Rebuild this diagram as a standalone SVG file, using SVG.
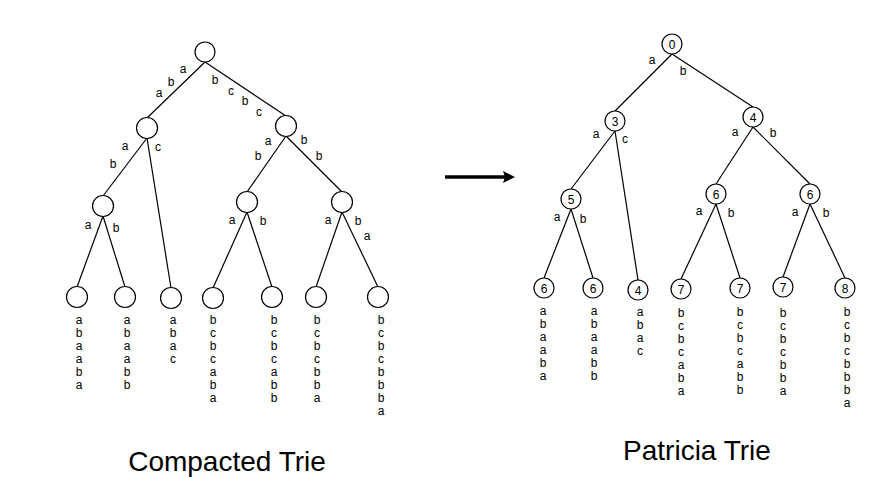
<svg xmlns="http://www.w3.org/2000/svg" width="891" height="477" viewBox="0 0 891 477">
<style>
  .n { fill: #fff; stroke: #000; stroke-width: 1.2; }
  .e { stroke: #000; stroke-width: 1.2; fill: none; }
  .t { font-family: "Liberation Sans", Arial, sans-serif; font-size: 12px; fill: #000; text-anchor: middle; }
  .cap { font-family: "Liberation Sans", Arial, sans-serif; font-size: 28px; fill: #000; text-anchor: middle; }
</style>
<rect width="891" height="477" fill="#fff"/>

<g id="connectors">
  <!-- compacted trie -->
  <line class="e" x1="205" y1="62" x2="147" y2="118"/>
  <line class="e" x1="205" y1="62" x2="286" y2="116"/>
  <line class="e" x1="147" y1="138" x2="103" y2="196"/>
  <line class="e" x1="147" y1="138" x2="171" y2="288"/>
  <line class="e" x1="286" y1="136" x2="247" y2="192"/>
  <line class="e" x1="286" y1="136" x2="342" y2="192"/>
  <line class="e" x1="103" y1="216" x2="77" y2="287"/>
  <line class="e" x1="103" y1="216" x2="125" y2="287"/>
  <line class="e" x1="247" y1="212" x2="213" y2="288"/>
  <line class="e" x1="247" y1="212" x2="272" y2="287"/>
  <line class="e" x1="342" y1="212" x2="316" y2="287"/>
  <line class="e" x1="342" y1="212" x2="378" y2="287"/>
  <!-- patricia trie -->
  <line class="e" x1="672" y1="54" x2="615" y2="111"/>
  <line class="e" x1="672" y1="54" x2="753" y2="107"/>
  <line class="e" x1="615" y1="131" x2="571" y2="189"/>
  <line class="e" x1="615" y1="131" x2="638" y2="280"/>
  <line class="e" x1="753" y1="127" x2="716" y2="184"/>
  <line class="e" x1="753" y1="127" x2="810" y2="184"/>
  <line class="e" x1="571" y1="209" x2="544" y2="278"/>
  <line class="e" x1="571" y1="209" x2="593" y2="278"/>
  <line class="e" x1="716" y1="204" x2="681" y2="279"/>
  <line class="e" x1="716" y1="204" x2="740" y2="278"/>
  <line class="e" x1="810" y1="204" x2="783" y2="277"/>
  <line class="e" x1="810" y1="204" x2="845" y2="278"/>
  <!-- transformation arrow -->
  <line x1="445" y1="177" x2="506" y2="177" stroke="#000" stroke-width="3.5"/>
  <polygon points="503,171 515,177 503,183 505,177" fill="#000"/>
</g>

<g id="edge-labels">
  <text class="t" x="183" y="73">a</text>
  <text class="t" x="171" y="86">b</text>
  <text class="t" x="159" y="97">a</text>
  <text class="t" x="215" y="84">b</text>
  <text class="t" x="231" y="95">c</text>
  <text class="t" x="245" y="105">b</text>
  <text class="t" x="259" y="116">c</text>
  <text class="t" x="125" y="150">a</text>
  <text class="t" x="113" y="168">b</text>
  <text class="t" x="158" y="151">c</text>
  <text class="t" x="268" y="145">a</text>
  <text class="t" x="258" y="160">b</text>
  <text class="t" x="304" y="144">b</text>
  <text class="t" x="319" y="160">b</text>
  <text class="t" x="88" y="229">a</text>
  <text class="t" x="116" y="232">b</text>
  <text class="t" x="232" y="224">a</text>
  <text class="t" x="263" y="225">b</text>
  <text class="t" x="328" y="224">a</text>
  <text class="t" x="358" y="225">b</text>
  <text class="t" x="367" y="240">a</text>

  <text class="t" x="652" y="64">a</text>
  <text class="t" x="683" y="75">b</text>
  <text class="t" x="596" y="138">a</text>
  <text class="t" x="625" y="143">c</text>
  <text class="t" x="735" y="136">a</text>
  <text class="t" x="773" y="137">b</text>
  <text class="t" x="557" y="221">a</text>
  <text class="t" x="583" y="223">b</text>
  <text class="t" x="699" y="215">a</text>
  <text class="t" x="731" y="217">b</text>
  <text class="t" x="795" y="216">a</text>
  <text class="t" x="826" y="217">b</text>
</g>

<!-- Compacted trie nodes -->
<g id="ct-root"><circle class="n" cx="205" cy="52" r="10"/></g>
<g id="ct-a"><circle class="n" cx="147" cy="128" r="10.5"/></g>
<g id="ct-b"><circle class="n" cx="286" cy="126" r="10.5"/></g>
<g id="ct-aa"><circle class="n" cx="103" cy="206" r="10.5"/></g>
<g id="ct-ba"><circle class="n" cx="247" cy="202" r="10.5"/></g>
<g id="ct-bb"><circle class="n" cx="342" cy="202" r="10.5"/></g>
<g id="ct-leaf1"><circle class="n" cx="77" cy="297" r="10.5"/>
  <text class="t" x="79" y="324"><tspan x="79">a</tspan><tspan x="79" dy="13">b</tspan><tspan x="79" dy="13">a</tspan><tspan x="79" dy="13">a</tspan><tspan x="79" dy="13">b</tspan><tspan x="79" dy="13">a</tspan></text></g>
<g id="ct-leaf2"><circle class="n" cx="125" cy="297" r="10.5"/>
  <text class="t" x="127" y="324"><tspan x="127">a</tspan><tspan x="127" dy="13">b</tspan><tspan x="127" dy="13">a</tspan><tspan x="127" dy="13">a</tspan><tspan x="127" dy="13">b</tspan><tspan x="127" dy="13">b</tspan></text></g>
<g id="ct-leaf3"><circle class="n" cx="171" cy="298" r="10.5"/>
  <text class="t" x="173" y="324"><tspan x="173">a</tspan><tspan x="173" dy="13">b</tspan><tspan x="173" dy="13">a</tspan><tspan x="173" dy="13">c</tspan></text></g>
<g id="ct-leaf4"><circle class="n" cx="213" cy="298" r="10.5"/>
  <text class="t" x="213" y="324"><tspan x="213">b</tspan><tspan x="213" dy="13">c</tspan><tspan x="213" dy="13">b</tspan><tspan x="213" dy="13">c</tspan><tspan x="213" dy="13">a</tspan><tspan x="213" dy="13">b</tspan><tspan x="213" dy="13">a</tspan></text></g>
<g id="ct-leaf5"><circle class="n" cx="272" cy="297" r="10.5"/>
  <text class="t" x="274" y="324"><tspan x="274">b</tspan><tspan x="274" dy="13">c</tspan><tspan x="274" dy="13">b</tspan><tspan x="274" dy="13">c</tspan><tspan x="274" dy="13">a</tspan><tspan x="274" dy="13">b</tspan><tspan x="274" dy="13">b</tspan></text></g>
<g id="ct-leaf6"><circle class="n" cx="316" cy="297" r="10.5"/>
  <text class="t" x="317" y="324"><tspan x="317">b</tspan><tspan x="317" dy="13">c</tspan><tspan x="317" dy="13">b</tspan><tspan x="317" dy="13">c</tspan><tspan x="317" dy="13">b</tspan><tspan x="317" dy="13">b</tspan><tspan x="317" dy="13">a</tspan></text></g>
<g id="ct-leaf7"><circle class="n" cx="378" cy="297" r="10.5"/>
  <text class="t" x="381" y="324"><tspan x="381">b</tspan><tspan x="381" dy="13">c</tspan><tspan x="381" dy="13">b</tspan><tspan x="381" dy="13">c</tspan><tspan x="381" dy="13">b</tspan><tspan x="381" dy="13">b</tspan><tspan x="381" dy="13">b</tspan><tspan x="381" dy="13">a</tspan></text></g>

<!-- Patricia trie nodes -->
<g id="pt-root"><circle class="n" cx="672" cy="44" r="10"/><text class="t" x="672" y="48.5">0</text></g>
<g id="pt-a"><circle class="n" cx="615" cy="121" r="10"/><text class="t" x="615" y="125.5">3</text></g>
<g id="pt-b"><circle class="n" cx="753" cy="117" r="10"/><text class="t" x="753" y="121.5">4</text></g>
<g id="pt-aa"><circle class="n" cx="571" cy="199" r="10"/><text class="t" x="571" y="203.5">5</text></g>
<g id="pt-ba"><circle class="n" cx="716" cy="194" r="10"/><text class="t" x="716" y="198.5">6</text></g>
<g id="pt-bb"><circle class="n" cx="810" cy="194" r="10"/><text class="t" x="810" y="198.5">6</text></g>
<g id="pt-leaf1"><circle class="n" cx="544" cy="288" r="10"/><text class="t" x="544" y="292.5">6</text>
  <text class="t" x="543" y="315"><tspan x="543">a</tspan><tspan x="543" dy="13">b</tspan><tspan x="543" dy="13">a</tspan><tspan x="543" dy="13">a</tspan><tspan x="543" dy="13">b</tspan><tspan x="543" dy="13">a</tspan></text></g>
<g id="pt-leaf2"><circle class="n" cx="593" cy="288" r="10"/><text class="t" x="593" y="292.5">6</text>
  <text class="t" x="594" y="315"><tspan x="594">a</tspan><tspan x="594" dy="13">b</tspan><tspan x="594" dy="13">a</tspan><tspan x="594" dy="13">a</tspan><tspan x="594" dy="13">b</tspan><tspan x="594" dy="13">b</tspan></text></g>
<g id="pt-leaf3"><circle class="n" cx="638" cy="290" r="10"/><text class="t" x="638" y="294.5">4</text>
  <text class="t" x="640" y="316"><tspan x="640">a</tspan><tspan x="640" dy="13">b</tspan><tspan x="640" dy="13">a</tspan><tspan x="640" dy="13">c</tspan></text></g>
<g id="pt-leaf4"><circle class="n" cx="681" cy="289" r="10"/><text class="t" x="681" y="293.5">7</text>
  <text class="t" x="681" y="317"><tspan x="681">b</tspan><tspan x="681" dy="13">c</tspan><tspan x="681" dy="13">b</tspan><tspan x="681" dy="13">c</tspan><tspan x="681" dy="13">a</tspan><tspan x="681" dy="13">b</tspan><tspan x="681" dy="13">a</tspan></text></g>
<g id="pt-leaf5"><circle class="n" cx="740" cy="288" r="10"/><text class="t" x="740" y="292.5">7</text>
  <text class="t" x="740" y="316"><tspan x="740">b</tspan><tspan x="740" dy="13">c</tspan><tspan x="740" dy="13">b</tspan><tspan x="740" dy="13">c</tspan><tspan x="740" dy="13">a</tspan><tspan x="740" dy="13">b</tspan><tspan x="740" dy="13">b</tspan></text></g>
<g id="pt-leaf6"><circle class="n" cx="783" cy="287" r="10"/><text class="t" x="783" y="291.5">7</text>
  <text class="t" x="783" y="317"><tspan x="783">b</tspan><tspan x="783" dy="13">c</tspan><tspan x="783" dy="13">b</tspan><tspan x="783" dy="13">c</tspan><tspan x="783" dy="13">b</tspan><tspan x="783" dy="13">b</tspan><tspan x="783" dy="13">a</tspan></text></g>
<g id="pt-leaf7"><circle class="n" cx="845" cy="288" r="10"/><text class="t" x="845" y="292.5">8</text>
  <text class="t" x="847" y="316"><tspan x="847">b</tspan><tspan x="847" dy="13">c</tspan><tspan x="847" dy="13">b</tspan><tspan x="847" dy="13">c</tspan><tspan x="847" dy="13">b</tspan><tspan x="847" dy="13">b</tspan><tspan x="847" dy="13">b</tspan><tspan x="847" dy="13">a</tspan></text></g>

<g id="captions">
  <text class="cap" x="227" y="471">Compacted Trie</text>
  <text class="cap" x="697" y="460">Patricia Trie</text>
</g>
</svg>
